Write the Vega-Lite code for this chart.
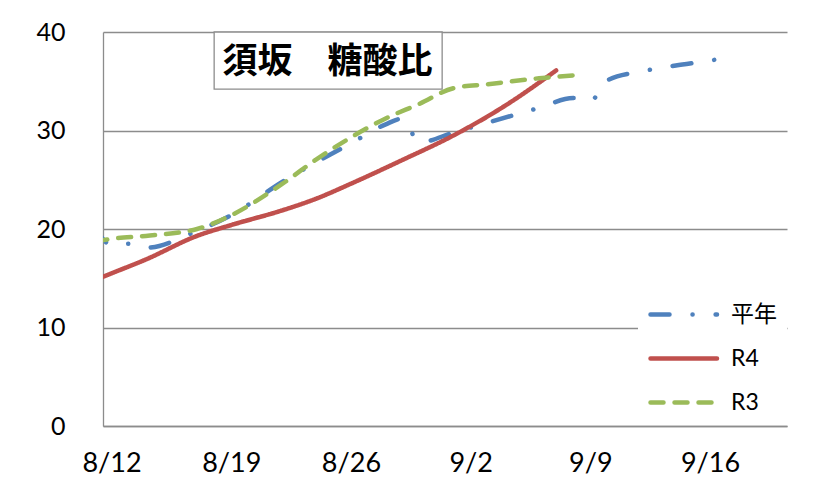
{
  "$schema": "https://vega.github.io/schema/vega-lite/v6.json",
  "width": 684,
  "height": 394,
  "autosize": {"type": "none"},
  "padding": {"left": 103, "top": 32, "right": 34, "bottom": 53},
  "background": "white",
  "config": {"view": {"stroke": null}, "font": "Lato"},
  "data": {"values": [
    {"series": "平年", "date": "2022-08-11T00:00", "value": 20.2},
    {"series": "平年", "date": "2022-08-12T00:00", "value": 18.4},
    {"series": "平年", "date": "2022-08-13T00:00", "value": 18.5},
    {"series": "平年", "date": "2022-08-14T00:00", "value": 18.1},
    {"series": "平年", "date": "2022-08-17T00:00", "value": 19.8},
    {"series": "平年", "date": "2022-08-19T00:00", "value": 21.4},
    {"series": "平年", "date": "2022-08-22T00:00", "value": 24.8},
    {"series": "平年", "date": "2022-08-24T00:00", "value": 26.8},
    {"series": "平年", "date": "2022-08-26T00:00", "value": 28.7},
    {"series": "平年", "date": "2022-08-28T00:00", "value": 30.6},
    {"series": "平年", "date": "2022-08-29T00:00", "value": 31.2},
    {"series": "平年", "date": "2022-08-30T00:00", "value": 28.8},
    {"series": "平年", "date": "2022-09-01T00:00", "value": 29.8},
    {"series": "平年", "date": "2022-09-03T00:00", "value": 30.8},
    {"series": "平年", "date": "2022-09-06T00:00", "value": 32.3},
    {"series": "平年", "date": "2022-09-08T00:00", "value": 33.3},
    {"series": "平年", "date": "2022-09-09T00:00", "value": 33.0},
    {"series": "平年", "date": "2022-09-10T00:00", "value": 35.1},
    {"series": "平年", "date": "2022-09-12T00:00", "value": 36.0},
    {"series": "平年", "date": "2022-09-14T00:00", "value": 36.6},
    {"series": "平年", "date": "2022-09-16T00:00", "value": 37.1},
    {"series": "平年", "date": "2022-09-17T00:00", "value": 37.4},
    {"series": "R4", "date": "2022-08-11T00:00", "value": 14.8},
    {"series": "R4", "date": "2022-08-12T00:00", "value": 15.5},
    {"series": "R4", "date": "2022-08-14T00:00", "value": 16.9},
    {"series": "R4", "date": "2022-08-17T00:00", "value": 19.3},
    {"series": "R4", "date": "2022-08-19T00:00", "value": 20.4},
    {"series": "R4", "date": "2022-08-22T00:00", "value": 21.9},
    {"series": "R4", "date": "2022-08-24T00:00", "value": 23.1},
    {"series": "R4", "date": "2022-08-26T00:00", "value": 24.6},
    {"series": "R4", "date": "2022-08-29T00:00", "value": 27.0},
    {"series": "R4", "date": "2022-09-01T00:00", "value": 29.5},
    {"series": "R4", "date": "2022-09-04T00:00", "value": 32.5},
    {"series": "R4", "date": "2022-09-07T00:00", "value": 36.1},
    {"series": "R3", "date": "2022-08-11T00:00", "value": 18.7},
    {"series": "R3", "date": "2022-08-12T00:00", "value": 19.0},
    {"series": "R3", "date": "2022-08-14T00:00", "value": 19.3},
    {"series": "R3", "date": "2022-08-17T00:00", "value": 20.0},
    {"series": "R3", "date": "2022-08-19T00:00", "value": 21.4},
    {"series": "R3", "date": "2022-08-22T00:00", "value": 24.6},
    {"series": "R3", "date": "2022-08-24T00:00", "value": 27.1},
    {"series": "R3", "date": "2022-08-26T00:00", "value": 29.3},
    {"series": "R3", "date": "2022-08-28T00:00", "value": 31.2},
    {"series": "R3", "date": "2022-08-30T00:00", "value": 32.7},
    {"series": "R3", "date": "2022-09-01T00:00", "value": 34.3},
    {"series": "R3", "date": "2022-09-03T00:00", "value": 34.7},
    {"series": "R3", "date": "2022-09-06T00:00", "value": 35.3},
    {"series": "R3", "date": "2022-09-08T00:00", "value": 35.6}
  ]},
  "layer": [
    {
      "mark": {"type": "line", "strokeWidth": 4.5, "strokeCap": "round", "strokeJoin": "round", "interpolate": "monotone", "clip": true},
      "encoding": {
        "x": {
          "field": "date", "type": "temporal",
          "scale": {"domain": [{"year": 2022, "month": 8, "date": 11, "hours": 12}, {"year": 2022, "month": 9, "date": 20, "hours": 12}]},
          "axis": {
            "title": null, "grid": false, "ticks": false, "domainColor": "#8c8c8c", "domainWidth": 1.3,
            "format": "%-m/%-d", "labelFontSize": 27, "labelColor": "#000000", "labelPadding": 24,
            "labelFlush": false, "labelOverlap": false,
            "values": [
              {"year": 2022, "month": 8, "date": 12},
              {"year": 2022, "month": 8, "date": 19},
              {"year": 2022, "month": 8, "date": 26},
              {"year": 2022, "month": 9, "date": 2},
              {"year": 2022, "month": 9, "date": 9},
              {"year": 2022, "month": 9, "date": 16}
            ]
          }
        },
        "y": {
          "field": "value", "type": "quantitative",
          "scale": {"domain": [0, 40], "nice": false},
          "axis": {
            "title": null, "ticks": false, "values": [0, 10, 20, 30, 40],
            "gridColor": "#8c8c8c", "gridWidth": 1.3, "domainColor": "#8c8c8c", "domainWidth": 1.3,
            "labelFontSize": 25, "labelColor": "#000000", "labelPadding": 38
          }
        },
        "color": {
          "field": "series", "type": "nominal",
          "scale": {"domain": ["平年", "R4", "R3"], "range": ["#4F81BD", "#C0504D", "#9BBB59"]},
          "legend": {
            "orient": "none", "legendX": 535, "legendY": 260, "title": null,
            "fillColor": "white", "padding": 10, "symbolType": "M-1,0L5.65,0", "symbolSize": 400,
            "symbolStrokeWidth": 4.5, "labelFontSize": 23, "labelFont": "Lato, Noto Sans CJK JP",
            "labelColor": "#000000", "labelOffset": 58, "rowPadding": 19,
            "encode": {"symbols": {"update": {"strokeCap": {"value": "round"}}}}
          }
        },
        "strokeDash": {
          "field": "series", "type": "nominal",
          "scale": {"domain": ["平年", "R4", "R3"], "range": [[19, 23, 0.1, 23], [1, 0], [13, 11]]},
          "legend": {
            "orient": "none", "legendX": 535, "legendY": 260, "title": null,
            "fillColor": "white", "padding": 10, "symbolType": "M-1,0L5.65,0", "symbolSize": 400,
            "symbolStrokeWidth": 4.5, "labelFontSize": 23, "labelFont": "Lato, Noto Sans CJK JP",
            "labelColor": "#000000", "labelOffset": 58, "rowPadding": 19,
            "encode": {"symbols": {"update": {"strokeCap": {"value": "round"}}}}
          }
        }
      }
    },
    {
      "data": {"values": [{}]},
      "mark": {"type": "rect", "fill": "white", "stroke": "#8c8c8c", "strokeWidth": 1.3},
      "encoding": {
        "x": {"datum": {"year": 2022, "month": 8, "date": 18}, "type": "temporal"},
        "x2": {"datum": {"year": 2022, "month": 8, "date": 31, "hours": 8}},
        "y": {"datum": 40, "type": "quantitative"},
        "y2": {"datum": 34.2}
      }
    },
    {
      "data": {"values": [{}]},
      "mark": {"type": "text", "text": "須坂　糖酸比", "font": "Noto Sans CJK JP", "fontWeight": "bold", "fontSize": 35, "color": "#000000", "baseline": "middle", "align": "center"},
      "encoding": {
        "x": {"datum": {"year": 2022, "month": 8, "date": 24, "hours": 15}, "type": "temporal"},
        "y": {"datum": 37.0, "type": "quantitative"}
      }
    }
  ]
}
